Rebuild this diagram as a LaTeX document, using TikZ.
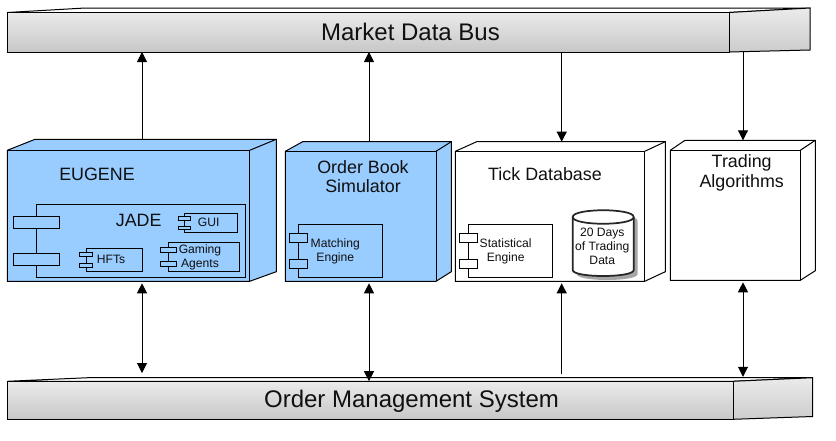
\documentclass[tikz,border=0pt]{standalone}
\usepackage{fontspec}
\setmainfont{Liberation Sans}
\usetikzlibrary{arrows.meta,fit}
\definecolor{boxblue}{HTML}{99CCFF}
\definecolor{inktext}{HTML}{101010}
\tikzset{
  x=0.75pt,y=-0.75pt,
  edge/.style={draw=black,line width=0.75pt,line join=miter},
  anchorbox/.style={inner sep=0pt,outer sep=0pt},
  flow/.style={line width=0.7pt,{Triangle[length=7.5pt,width=7.5pt]}-{Triangle[length=7.5pt,width=7.5pt]}},
  flowup/.style={line width=0.7pt,-{Triangle[length=7.5pt,width=7.5pt]}},
  bigtext/.style={font=\fontsize{18}{20}\selectfont,text=inktext,inner sep=0pt},
  midtext/.style={font=\fontsize{13.4}{14.6}\selectfont,text=inktext,align=center,inner sep=0pt},
  smalltext/.style={font=\fontsize{9.1}{10.5}\selectfont,text=inktext,align=center,inner sep=0pt},
}
% name, fill, left, top, right, bottom, back left, back top, back right
\newcommand{\cubebox}[9]{
  \filldraw[edge,fill=#2] (#3,#4) -- (#7,#8) -- (#9,#8) -- ({#9},{#6-9.6}) -- (#5,#6) -- (#3,#6) -- cycle;
  \draw[edge] (#3,#4) -- (#5,#4) -- (#5,#6);
  \draw[edge] (#5,#4) -- (#9,#8);
  \coordinate (#1a) at (#3,#8);
  \coordinate (#1b) at (#9,#6);
  \node[anchorbox,fit=(#1a)(#1b)] (#1) {};
}
% name, left, top back, top front, seam, right, bottom front, bottom back, offset of back corner
\newcommand{\busbar}[9]{
  \filldraw[edge,fill=white] (#2,#4) -- (#9,#3) -- (#6,#3) -- (#5,#4) -- cycle;
  \shade[top color=black!8,bottom color=black!22] (#2,#4) rectangle (#5,#7);
  \shade[top color=black!8,bottom color=black!20] (#5,#4) -- (#6,#3) -- (#6,#8) -- (#5,#7) -- cycle;
  \draw[edge] (#2,#4) rectangle (#5,#7);
  \draw[edge] (#5,#4) -- (#6,#3) -- (#6,#8) -- (#5,#7);
  \coordinate (#1a) at (#2,#3);
  \coordinate (#1b) at (#6,#7);
  \node[anchorbox,fit=(#1a)(#1b)] (#1) {};
}
\begin{document}
\begin{tikzpicture}
\useasboundingbox (0,0) rectangle (836,440);
\fill[white] (0,0) rectangle (836,440);

% buses
\busbar{mdb}{7.3}{8}{12.5}{729}{810}{52}{50}{85}
\node[bigtext] (mdbt) at (410.5,31.5) {Market Data Bus};
\busbar{oms}{7.3}{377.7}{381.3}{733}{812.7}{419.3}{416.5}{88}
\node[bigtext] (omst) at (411.5,401) {Order Management System};

% EUGENE
\cubebox{eug}{boxblue}{7.3}{150.3}{249.7}{281.3}{35}{139.3}{276.3}
\node[midtext] (eugt) at (97,174.5) {EUGENE};
\draw[edge] (36.3,204.3) rectangle (245.7,277.3);
\filldraw[edge,fill=boxblue] (13.3,216.3) rectangle (59.7,228.7);
\filldraw[edge,fill=boxblue] (13.3,253.3) rectangle (59.7,265.7);
\node[midtext] (jade) at (138.7,220.5) {JADE};
% GUI
\draw[edge] (184.3,213.3) rectangle (237.7,232.3);
\filldraw[edge,fill=boxblue] (178.3,216) rectangle (190.7,220);
\filldraw[edge,fill=boxblue] (178.3,226) rectangle (190.7,229.7);
\node[smalltext] (gui) at (208.7,222.7) {GUI};
% HFTs
\draw[edge] (86.3,248.3) rectangle (142.7,271.3);
\filldraw[edge,fill=boxblue] (79.3,252.3) rectangle (92.7,256.7);
\filldraw[edge,fill=boxblue] (79.3,263.3) rectangle (92.7,267.3);
\node[smalltext] (hft) at (111,259.7) {HFTs};
% Gaming Agents
\draw[edge] (168.3,242.3) rectangle (239.3,271.3);
\filldraw[edge,fill=boxblue] (160.3,247.3) rectangle (176.7,252.7);
\filldraw[edge,fill=boxblue] (160.3,261.3) rectangle (176.7,266.7);
\node[smalltext] (gam) at (200,257) {Gaming\\Agents};

% Order Book Simulator
\cubebox{obs}{boxblue}{285.3}{151.3}{436}{281.3}{302.7}{141.7}{451.3}
\node[midtext] (obst) at (363,176.5) {Order Book\\Simulator};
\draw[edge] (298.3,224.3) rectangle (382.7,277.3);
\filldraw[edge,fill=boxblue] (289.3,233.3) rectangle (307.7,242.7);
\filldraw[edge,fill=boxblue] (289.3,259.3) rectangle (307.7,268.3);
\node[smalltext] (mat) at (335.3,251) {Matching\\Engine};

% Tick Database
\cubebox{tick}{white}{455.3}{151.3}{644.7}{281.3}{476.7}{141.7}{665.3}
\node[midtext] (tickt) at (545,174.5) {Tick Database};
\draw[edge] (468.3,224.3) rectangle (552.3,277.3);
\filldraw[edge,fill=white] (459.3,233.3) rectangle (477.7,242.7);
\filldraw[edge,fill=white] (459.3,259.3) rectangle (477.7,268.3);
\node[smalltext] (sta) at (505.7,251) {Statistical\\Engine};
% cylinder
\fill[black!35] (576.7,221) .. controls (576.7,212) and (637.7,212) .. (637.7,221) -- (637.7,274) .. controls (637.7,282) and (576.7,282) .. (576.7,274) -- cycle;
\filldraw[draw=black!85,line width=1.3pt,fill=white] (572.7,217) .. controls (572.7,208) and (633.7,208) .. (633.7,217) -- (633.7,270) .. controls (633.7,278) and (572.7,278) .. (572.7,270) -- cycle;
\draw[draw=black!85,line width=1.3pt] (572.7,217) .. controls (572.7,226) and (633.7,226) .. (633.7,217);
\node[smalltext] (db) at (602.3,246.7) {20 Days\\of Trading\\Data};

% Trading Algorithms
\cubebox{alg}{white}{670.3}{150.3}{800.3}{280.3}{685}{140.3}{815.3}
\node[midtext] (algt) at (741.7,173) {Trading\\Algorithms};

% connectors
\coordinate (c1) at (142,0);
\coordinate (c2) at (369,0);
\coordinate (c3) at (561.7,0);
\coordinate (c4) at (743,0);
\draw[flowup] (eug.north -| c1) -- (mdb.south -| c1);
\draw[flowup] (obs.north -| c2) -- (mdb.south -| c2);
\draw[flowup] (mdb.south -| c3) -- (tick.north -| c3);
\draw[flowup] (mdb.south -| c4) -- (alg.north -| c4);
\draw[flow,shorten <=1.5pt,shorten >=3.5pt] (eug.south -| c1) -- (oms.north -| c1);
\draw[flow,shorten <=1.5pt,shorten >=-2.6pt] (obs.south -| c2) -- (oms.north -| c2);
\draw[flowup,shorten <=2.5pt,shorten >=1.5pt] (oms.north -| c3) -- (tick.south -| c3);
\draw[flow,shorten <=1.5pt,shorten >=0.7pt] (alg.south -| c4) -- (oms.north -| c4);
\end{tikzpicture}
\end{document}
